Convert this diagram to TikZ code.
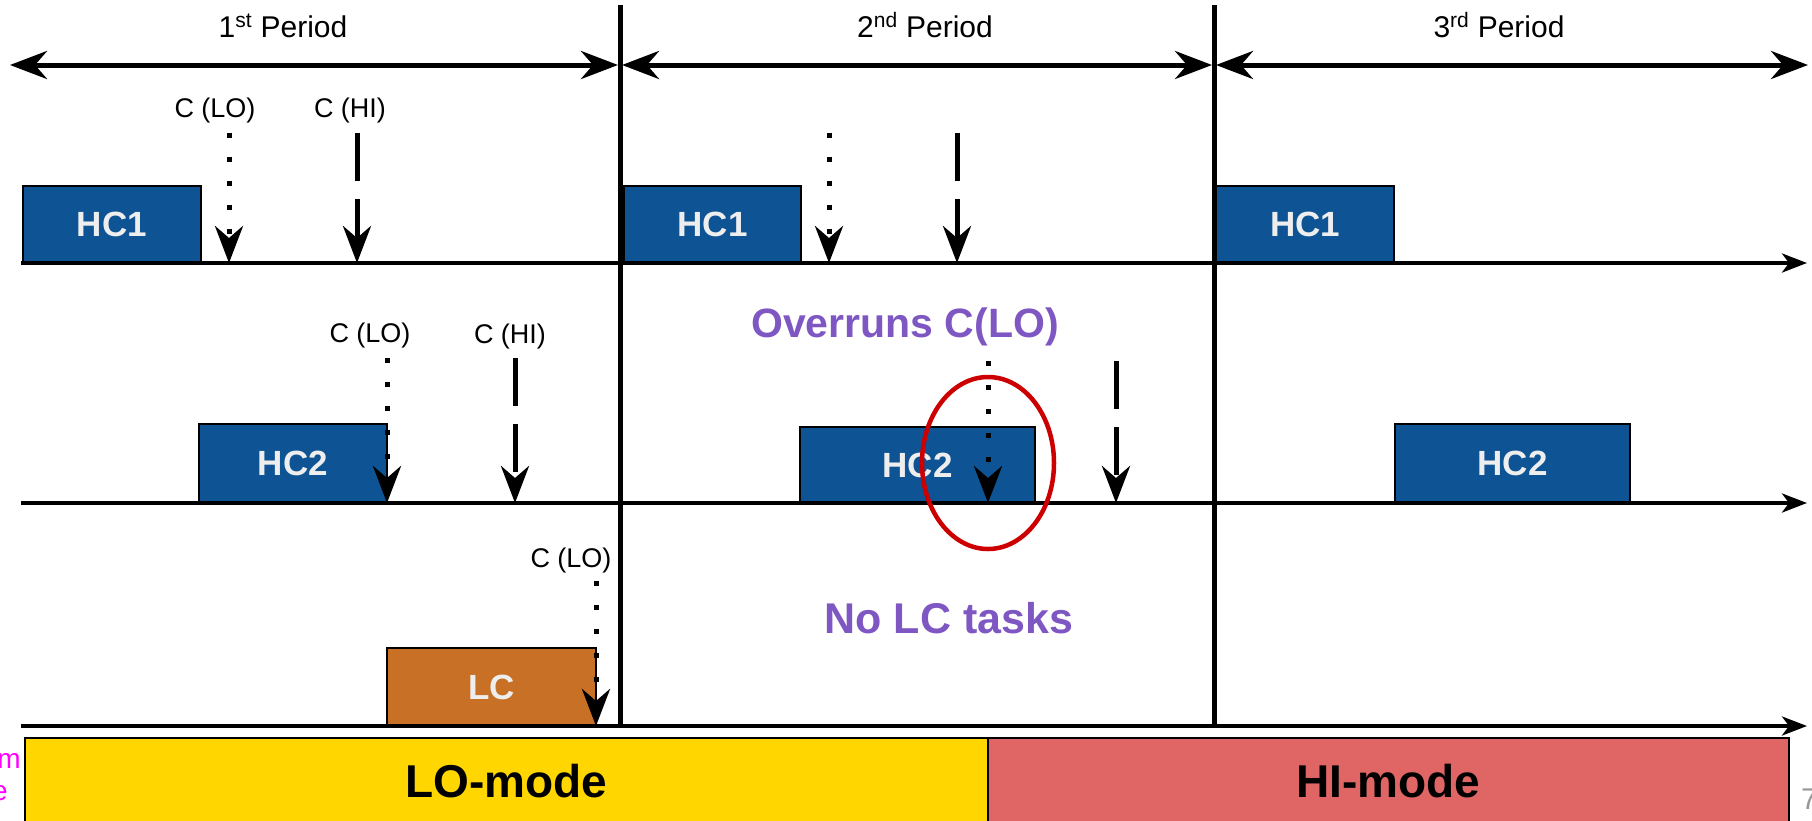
\documentclass[tikz,border=0pt]{standalone}
\usepackage{fontspec}
\setmainfont{Liberation Sans}
\usetikzlibrary{arrows.meta}

\definecolor{hcblue}{HTML}{0E5394}
\definecolor{lcorange}{HTML}{C87026}
\definecolor{loyellow}{HTML}{FFD600}
\definecolor{hired}{HTML}{E06666}
\definecolor{notepurple}{HTML}{7E57C2}
\definecolor{ringred}{HTML}{CC0000}
\definecolor{boxtext}{HTML}{EEEEEE}
\definecolor{marginpink}{RGB}{255,0,255}
\definecolor{pagegray}{HTML}{999999}

\newcommand{\fs}[1]{\fontsize{#1}{#1}\selectfont}

\begin{document}
\begin{tikzpicture}[x=1pt,y=-1pt,
  taskbox/.style={draw=black, line width=1.5pt, inner sep=0pt, text=boxtext,
                  font=\bfseries\fs{35}},
  hcbox/.style={taskbox, fill=hcblue},
  lcbox/.style={taskbox, fill=lcorange},
  modebox/.style={draw=black, line width=1.2pt, inner sep=0pt, font=\bfseries\fs{46}},
  timeaxis/.style={line width=4pt, -{Stealth[length=25pt,width=19pt,inset=7pt]}},
  boundary/.style={line width=5pt},
  spanarrow/.style={line width=5pt,
    {Stealth[length=37pt,width=28pt,inset=12pt]}-{Stealth[length=37pt,width=28pt,inset=12pt]}},
  loarrow/.style={line width=5pt, dash pattern=on 5pt off 19pt,
    -{Stealth[length=37pt,width=28pt,inset=12pt]}},
  hiarrow/.style={line width=5pt, dash pattern=on 48pt off 18pt,
    -{Stealth[length=37pt,width=28pt,inset=12pt]}},
  budget/.style={anchor=base, font=\fs{27}, inner sep=0pt},
  period/.style={anchor=base, font=\fs{30}, inner sep=0pt},
  note/.style={anchor=base, font=\bfseries\fs{41}, text=notepurple, inner sep=0pt}
]
\useasboundingbox (0,0) rectangle (1812,820);

% time axes of the three tasks
\coordinate (ax1) at (21,263);
\coordinate (ax2) at (21,503);
\coordinate (ax3) at (21,726);
\coordinate (ax1e) at (1807,263);
\coordinate (ax2e) at (1807,503);
\coordinate (ax3e) at (1807,726);

% period boundaries
\coordinate (b1t) at (620,5);
\coordinate (b1b) at (620,728);
\coordinate (b2t) at (1214,5);
\coordinate (b2b) at (1214,728);

% mode bar
\node[modebox, fill=loyellow, minimum width=963pt, minimum height=86pt] (lomode) at (506.5,781) {LO-mode};
\node[modebox, fill=hired, minimum width=801pt, minimum height=86pt] (himode) at (1388.5,781) {HI-mode};

% jobs
\node[hcbox, minimum width=178pt, minimum height=77pt] (hc1a) at (112,224.5) {HC1};
\node[hcbox, minimum width=177pt, minimum height=77pt] (hc1b) at (712.5,224.5) {HC1};
\node[hcbox, minimum width=178pt, minimum height=77pt] (hc1c) at (1305,224.5) {HC1};
\node[hcbox, minimum width=188pt, minimum height=79pt] (hc2a) at (293,463.5) {HC2};
\node[hcbox, minimum width=235pt, minimum height=76pt] (hc2b) at (917.5,465) {HC2};
\node[hcbox, minimum width=235pt, minimum height=79pt] (hc2c) at (1512.5,463.5) {HC2};
\node[lcbox, minimum width=209pt, minimum height=78pt] (lc) at (491.5,687) {LC};

% axes and boundaries
\draw[timeaxis] (ax1) -- (ax1e);
\draw[timeaxis] (ax2) -- (ax2e);
\draw[timeaxis] (ax3) -- (ax3e);
\draw[boundary] (b1t) -- (b1b);
\draw[boundary] (b2t) -- (b2b);

% period spans
\coordinate (p0) at (10,65);
\coordinate (p1) at (620,65);
\coordinate (p2) at (1214,65);
\coordinate (p3) at (1808,65);
\draw[spanarrow] (p0) -- ([xshift=-2pt]p1);
\draw[spanarrow] ([xshift=2pt]p1) -- ([xshift=-2pt]p2);
\draw[spanarrow] ([xshift=2pt]p2) -- (p3);
\node[period] (per1) at (283,37) {1\textsuperscript{st} Period};
\node[period] (per2) at (925,37) {2\textsuperscript{nd} Period};
\node[period] (per3) at (1499,37) {3\textsuperscript{rd} Period};

% overrun marker
\draw[ringred, line width=4.5pt] (988,463) ellipse [x radius=66, y radius=86];

% budget arrows, HC1
\coordinate (lo1a) at (229,133);
\coordinate (hi1a) at (357,133);
\coordinate (lo1b) at (829,133);
\coordinate (hi1b) at (957,133);
\node[budget] (llo1a) at (215,117) {C (LO)};
\node[budget] (lhi1a) at (350,117) {C (HI)};
\draw[loarrow] (lo1a) -- (lo1a |- ax1);
\draw[hiarrow] (hi1a) -- (hi1a |- ax1);
\draw[loarrow] (lo1b) -- (lo1b |- ax1);
\draw[hiarrow] (hi1b) -- (hi1b |- ax1);

% budget arrows, HC2
\coordinate (lo2a) at (387,358);
\coordinate (hi2a) at (515,358);
\coordinate (lo2b) at (988,361);
\coordinate (hi2b) at (1116,361);
\node[budget] (llo2a) at (370,342) {C (LO)};
\node[budget] (lhi2a) at (510,343) {C (HI)};
\draw[loarrow] (lo2a) -- (lo2a |- ax2);
\draw[hiarrow] (hi2a) -- (hi2a |- ax2);
\draw[loarrow] (lo2b) -- (lo2b |- ax2);
\draw[hiarrow] (hi2b) -- (hi2b |- ax2);

% budget arrow, LC
\coordinate (lo3a) at (596,581);
\node[budget] (llo3a) at (571,567) {C (LO)};
\draw[loarrow] (lo3a) -- (lo3a |- ax3);

% notes
\node[note] (overrun) at (905,337) {Overruns C(LO)};
\node[note, font=\bfseries\fs{43}] (nolc) at (949,633) {No LC tasks};

% margin texts
\node[anchor=base east, font=\fs{28}, text=marginpink, inner sep=0pt] (mm) at (21,768) {m};
\node[anchor=base east, font=\fs{28}, text=marginpink, inner sep=0pt] (me) at (8,800) {e};
\node[anchor=base west, font=\fs{30}, text=pagegray, inner sep=0pt] (pg) at (1801,809) {7};
\end{tikzpicture}
\end{document}
